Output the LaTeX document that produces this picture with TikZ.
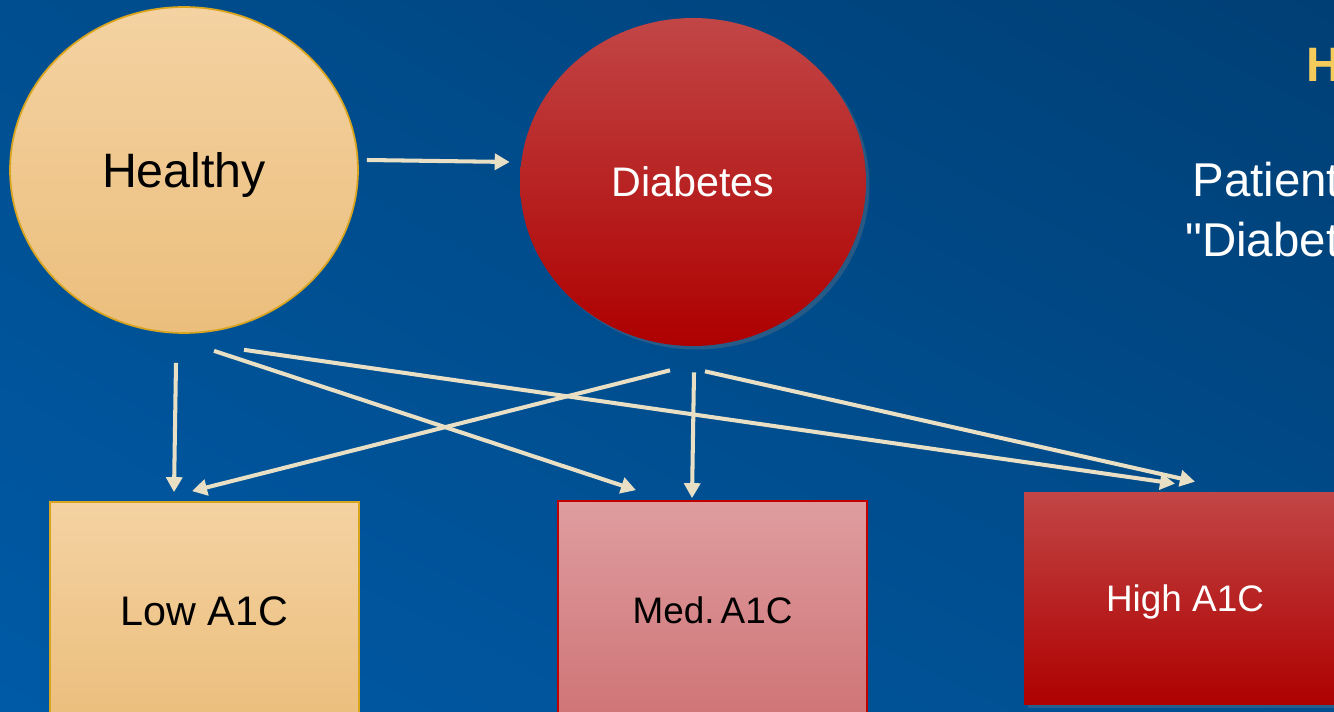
\documentclass[tikz,border=0pt]{standalone}
\usepackage{fontspec}
\setmainfont{Liberation Sans}
\newfontfamily\plainquote{Liberation Sans}
\usepackage{xcolor}
\usetikzlibrary{calc, shapes.geometric, shadows, shadings, arrows.meta}

\definecolor{bgdark}{HTML}{003F75}
\definecolor{bgmid}{HTML}{004E8F}
\definecolor{bglight}{HTML}{005AA6}
\definecolor{sandtop}{HTML}{F4D2A2}
\definecolor{sandbot}{HTML}{EBBE7C}
\definecolor{sandline}{HTML}{D9A41E}
\definecolor{redtop}{HTML}{C24646}
\definecolor{redmid}{HTML}{B60404}
\definecolor{redbot}{HTML}{AE0000}
\definecolor{pinktop}{HTML}{DF9D9F}
\definecolor{pinkbot}{HTML}{CF7476}
\definecolor{pinkline}{HTML}{C00000}
\definecolor{cream}{HTML}{E8DFC4}
\definecolor{gold}{HTML}{F5CB5C}

\tikzset{
  sandshape/.style = {top color=sandtop, bottom color=sandbot, draw=sandline, line width=1pt, inner sep=0pt},
  redshape/.style = {top color=redtop, middle color=redmid, bottom color=redbot, inner sep=0pt,
                     drop shadow={shadow xshift=2pt, shadow yshift=-2pt, opacity=0.3}},
  pinkshape/.style = {top color=pinktop, bottom color=pinkbot, draw=pinkline, line width=1pt, inner sep=0pt},
  flow/.style = {draw=cream, line width=2.3pt, -{Triangle[length=0.3cm, width=0.32cm]}}
}

\begin{document}
\begin{tikzpicture}[x=0.02cm, y=-0.02cm]

  % Frame and background
  \useasboundingbox (0,0) rectangle (1334,712);
  \clip (0,0) rectangle (1334,712);
  \shade[upper left=bgmid, upper right=bgdark, lower left=bglight, lower right=bgmid]
    (0,0) rectangle (1334,712);

  % States
  \node[ellipse, sandshape, minimum width=6.96cm, minimum height=6.52cm, text depth=0pt,
        font=\fontsize{27.5}{33}\selectfont] (healthy) at (184,170) {Healthy};
  \node[ellipse, redshape, minimum width=6.92cm, minimum height=6.56cm, text=white,
        font=\fontsize{23.5}{28}\selectfont] (diabetes) at (693,182) {Diabetes};

  % Observations
  \node[rectangle, sandshape, minimum width=6.18cm, minimum height=4.36cm,
        font=\fontsize{23.5}{28}\selectfont] (low) at (204.5,611) {Low A1C};
  \node[rectangle, pinkshape, minimum width=6.18cm, minimum height=4.36cm,
        font=\fontsize{21}{25}\selectfont] (med) at (712.5,610) {Med.\,A1C};
  \node[rectangle, redshape, minimum width=6.44cm, minimum height=4.26cm, text=white, text depth=0pt,
        font=\fontsize{21}{25}\selectfont] (high) at (1185,598.5) {High A1C};

  % Side text
  \node[anchor=base west, inner sep=0pt, text=gold, font=\fontsize{27.5}{33}\selectfont\bfseries]
    (title) at (1306,82) {H};
  \node[anchor=base west, inner sep=0pt, text=white, font=\fontsize{27}{33}\selectfont]
    (line1) at (1192,197) {Patient};
  \node[anchor=base west, inner sep=0pt, text=white, font=\fontsize{27}{33}\selectfont]
    (line2) at (1185,257) {{\plainquote"}Diabet};

  % Transition
  \draw[flow] ($(healthy.east)+(8,-10)$) -- ($(diabetes.west)+(-10,-20)$);

  % Emissions
  \draw[flow] ($(healthy.south)+(-8,29)$) -- ($(low.north)+(-30.5,-9)$);
  \draw[flow] ($(healthy.south)+(30,17)$) -- ($(med.north)+(-76.5,-10)$);
  \draw[flow] ($(healthy.south)+(60,16)$) -- ($(high.north)+(-10,-8)$);
  \draw[flow] ($(diabetes.south)+(-23,24)$) -- ($(low.north)+(-12.5,-10)$);
  \draw[flow] ($(diabetes.south)+(1,26)$) -- ($(med.north)+(-20.5,-2)$);
  \draw[flow] ($(diabetes.south)+(12,25)$) -- ($(high.north)+(10,-10)$);

\end{tikzpicture}
\end{document}
